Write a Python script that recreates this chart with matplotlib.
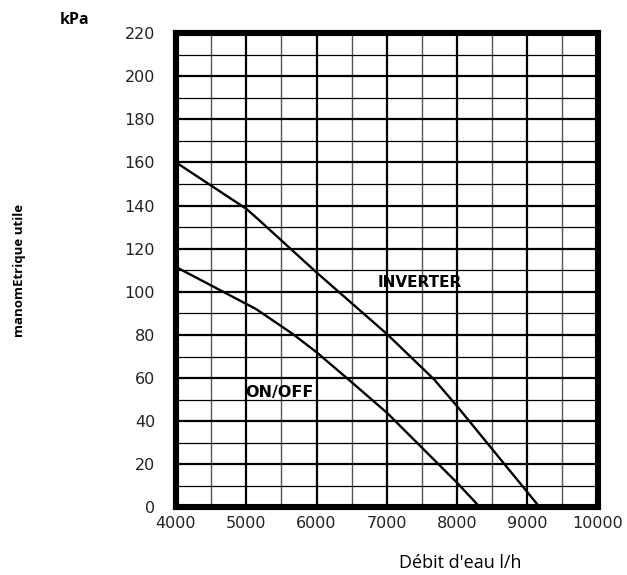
import numpy as np
import matplotlib
matplotlib.use('Agg')
import matplotlib.pyplot as plt
from matplotlib.ticker import MultipleLocator

# pump curves (flow l/h, pressure kPa)
inv_flow = [4000, 5000, 5140, 6000, 7000, 7670, 8000, 9180]
inv_kpa = [160, 138.5, 134.5, 109, 80.5, 59.5, 47, 0]

onoff_flow = [4000, 5140, 5660, 6000, 6450, 7000, 8000, 8330]
onoff_kpa = [111.5, 92, 80.5, 72, 59.5, 44, 11.5, 0]

xticks = [4000, 5000, 6000, 7000, 8000, 9000, 10000]
yticks = list(range(0, 221, 20))

fig = plt.figure(figsize=(6.27, 5.75), dpi=100)
ax = fig.add_axes([0.2807, 0.1174, 0.953 - 0.2807, 0.9426 - 0.1174])

ax.set_xlim(4000, 10000)
ax.set_ylim(0, 220)
ax.set_xticks(xticks)
ax.set_yticks(yticks)
ax.xaxis.set_minor_locator(MultipleLocator(500))
ax.yaxis.set_minor_locator(MultipleLocator(10))

ax.grid(which='major', color='black', lw=1.6)
ax.grid(which='minor', axis='x', color='#555555', lw=1.0)
ax.grid(which='minor', axis='y', color='black', lw=0.9)
ax.set_axisbelow(True)

ax.tick_params(which='both', length=0)
ax.tick_params(axis='y', pad=15, labelsize=11.5)
ax.tick_params(axis='x', pad=6, labelsize=11.5)
for lab in ax.get_xticklabels() + ax.get_yticklabels():
    lab.set_color('#222222')

for s in ax.spines.values():
    s.set_linewidth(4.4)
    s.set_color('black')

ax.plot(inv_flow, inv_kpa, color='black', lw=1.7, clip_on=False, zorder=3)
ax.plot(onoff_flow, onoff_kpa, color='black', lw=1.7, clip_on=False, zorder=3)

ax.text(7470, 104.5, 'INVERTER', ha='center', va='center', fontsize=11,
        fontweight='bold', zorder=4)
ax.text(5470, 53.5, 'ON/OFF', ha='center', va='center', fontsize=11.5,
        fontweight='bold', zorder=4)

fig.text(75 / 627, 1 - 20 / 575, 'kPa', ha='center', va='center',
         fontsize=11.5, fontweight='bold', family='Open Sans')
fig.text(20 / 627, 1 - 270 / 575, 'manomEtrique utile', ha='center', va='center',
         rotation=90, fontsize=9.5, fontweight='bold', family='Open Sans')
fig.text(460 / 627, 1 - 563 / 575, "Débit d'eau l/h", ha='center', va='center',
         fontsize=13, family='Open Sans')

fig.savefig('out.png', dpi=100)
